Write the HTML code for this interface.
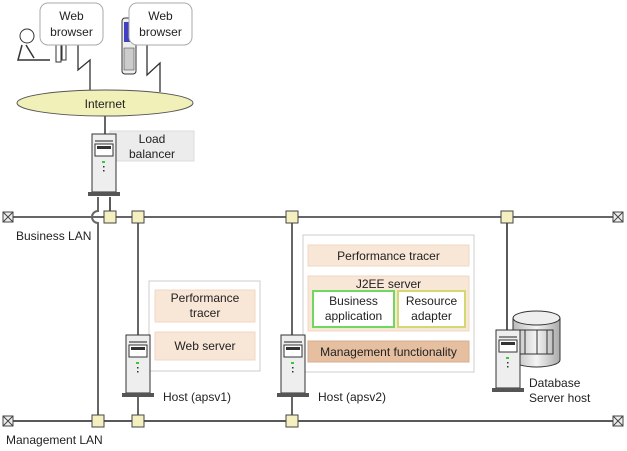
<!DOCTYPE html>
<html><head><style>body{margin:0;background:#fff}svg{display:block;font-family:"Liberation Sans",sans-serif}</style></head><body>
<svg width="627" height="451" viewBox="0 0 627 451" xmlns="http://www.w3.org/2000/svg">
<defs>
<linearGradient id="cyl" x1="0" x2="1"><stop offset="0" stop-color="#bbb"/><stop offset="0.5" stop-color="#f4f4f4"/><stop offset="1" stop-color="#aaa"/></linearGradient>
<g id="srv">
<rect x="0" y="0" width="24" height="58" fill="#eee" stroke="#333"/>
<rect x="3" y="6" width="18" height="2" fill="#888"/>
<rect x="3" y="10" width="18" height="12" fill="#fff" stroke="#333"/>
<rect x="5" y="12" width="14" height="3" fill="#333"/>
<rect x="10" y="27" width="3" height="2" fill="#3c3"/>
<rect x="11" y="32" width="1.5" height="1.5" fill="#333"/><rect x="11" y="36" width="1.5" height="1.5" fill="#333"/>
<rect x="-4" y="58" width="32" height="4" fill="#555"/>
</g>
<g id="sq"><rect x="-6" y="-6" width="12" height="12" fill="#f4f0c0" stroke="#444"/></g>
<g id="tm"><rect x="-5" y="-5" width="10" height="10" fill="#eee" stroke="#444"/><path d="M-5 -5L5 5M5 -5L-5 5" stroke="#444"/></g>
</defs>
<!-- LAN lines -->
<line x1="8" y1="217" x2="618" y2="217" stroke="#666" stroke-width="2"/>
<line x1="8" y1="421" x2="618" y2="421" stroke="#222" stroke-width="1.5"/>
<!-- verticals -->
<path d="M98 197V211A6 6 0 0 0 98 223V421" fill="none" stroke="#666" stroke-width="2"/>
<line x1="110" y1="197" x2="110" y2="217" stroke="#222" stroke-width="1.5"/>
<line x1="138" y1="217" x2="138" y2="421" stroke="#666" stroke-width="2"/>
<line x1="292" y1="217" x2="292" y2="421" stroke="#666" stroke-width="2"/>
<line x1="507" y1="217" x2="507" y2="330" stroke="#222" stroke-width="1.5"/>
<line x1="105" y1="116" x2="105" y2="134" stroke="#666" stroke-width="2"/>
<!-- squares -->
<use href="#sq" x="110" y="217"/><use href="#sq" x="138" y="217"/><use href="#sq" x="292" y="217"/><use href="#sq" x="507" y="217"/>
<use href="#sq" x="98" y="421"/><use href="#sq" x="138" y="421"/><use href="#sq" x="292" y="421"/>
<use href="#tm" x="8" y="217"/><use href="#tm" x="618" y="217"/><use href="#tm" x="8" y="421"/><use href="#tm" x="618" y="421"/>
<text x="16" y="240" font-size="12" fill="#222">Business LAN</text>
<text x="6" y="444" font-size="12" fill="#222">Management LAN</text>
<!-- lightning -->
<path d="M78 45V70L90 60V91" fill="none" stroke="#333" stroke-width="1.3"/>
<path d="M147 45V75L160 63V92" fill="none" stroke="#333" stroke-width="1.3"/>
<!-- people/phone -->
<circle cx="27" cy="36" r="7" fill="#fff" stroke="#333"/>
<path d="M22 45L18 60H50M26 45L34 58" fill="none" stroke="#333" stroke-width="1.5"/>
<rect x="56" y="44" width="5" height="18" fill="#fff" stroke="#333"/><rect x="62" y="44" width="4" height="16" fill="#fff" stroke="#333"/>
<rect x="122" y="18" width="14" height="56" rx="3" fill="#eee" stroke="#333"/>
<rect x="124" y="22" width="10" height="20" fill="#4040c0"/>
<rect x="124" y="48" width="10" height="22" fill="#ccc" stroke="#333" stroke-width="0.5"/>
<!-- bubbles -->
<rect x="40" y="3" width="63" height="42" rx="8" fill="#fff" stroke="#aaa"/>
<text x="71.5" y="20" font-size="12" text-anchor="middle" fill="#222">Web</text>
<text x="71.5" y="36" font-size="12" text-anchor="middle" fill="#222">browser</text>
<rect x="129" y="3" width="63" height="42" rx="8" fill="#fff" stroke="#aaa"/>
<text x="160.5" y="20" font-size="12" text-anchor="middle" fill="#222">Web</text>
<text x="160.5" y="36" font-size="12" text-anchor="middle" fill="#222">browser</text>
<!-- internet -->
<ellipse cx="105" cy="103" rx="88" ry="13" fill="#f0f0b8" stroke="#555"/>
<text x="105" y="108" font-size="12" text-anchor="middle" fill="#222">Internet</text>
<!-- load balancer -->
<rect x="110" y="131" width="84" height="30" fill="#ececec" stroke="#ddd"/>
<text x="152" y="143" font-size="12" text-anchor="middle" fill="#222">Load</text>
<text x="152" y="158" font-size="12" text-anchor="middle" fill="#222">balancer</text>
<use href="#srv" x="92" y="134"/>
<!-- apsv1 -->
<rect x="149" y="281" width="111" height="90" fill="#fff" stroke="#ccc"/>
<rect x="155" y="290" width="100" height="32" fill="#f8e6d6" stroke="#f0d8c4"/>
<text x="205" y="302" font-size="12" text-anchor="middle" fill="#222">Performance</text>
<text x="205" y="317" font-size="12" text-anchor="middle" fill="#222">tracer</text>
<rect x="155" y="332" width="100" height="28" fill="#f8e6d6" stroke="#f0d8c4"/>
<text x="205" y="350" font-size="12" text-anchor="middle" fill="#222">Web server</text>
<use href="#srv" x="126" y="335"/>
<text x="163" y="401" font-size="12" fill="#222">Host (apsv1)</text>
<!-- apsv2 -->
<rect x="303" y="235" width="171" height="137" fill="#fff" stroke="#ccc"/>
<rect x="308" y="245" width="161" height="21" fill="#f8e6d6" stroke="#f0d8c4"/>
<text x="388.5" y="260" font-size="12" text-anchor="middle" fill="#222">Performance tracer</text>
<rect x="308" y="276" width="161" height="55" fill="#f8e6d6" stroke="#f0d8c4"/>
<text x="388.5" y="288" font-size="12" text-anchor="middle" fill="#222">J2EE server</text>
<rect x="313" y="291" width="81" height="36" fill="#fff" stroke="#70d860" stroke-width="2"/>
<text x="353.5" y="305" font-size="12" text-anchor="middle" fill="#222">Business</text>
<text x="353.5" y="320" font-size="12" text-anchor="middle" fill="#222">application</text>
<rect x="398" y="291" width="67" height="36" fill="#fff" stroke="#d4d870" stroke-width="2"/>
<text x="431.5" y="305" font-size="12" text-anchor="middle" fill="#222">Resource</text>
<text x="431.5" y="320" font-size="12" text-anchor="middle" fill="#222">adapter</text>
<rect x="308" y="341" width="161" height="21" fill="#e6bea0" stroke="#d8ae90"/>
<text x="388.5" y="356" font-size="12" text-anchor="middle" fill="#222">Management functionality</text>
<use href="#srv" x="281" y="335"/>
<text x="318" y="401" font-size="12" fill="#222">Host (apsv2)</text>
<!-- DB -->
<path d="M513 318V360A23.5 7 0 0 0 560 360V318" fill="url(#cyl)" stroke="#333"/>
<ellipse cx="536.5" cy="318" rx="23.5" ry="7" fill="#eee" stroke="#333"/>
<path d="M513 330H553V354H513M525 330V354M537 330V354M547 330V354" fill="none" stroke="#333"/>
<use href="#srv" x="496" y="330"/>
<text x="529" y="387" font-size="12" fill="#222">Database</text>
<text x="529" y="402" font-size="12" fill="#222">Server host</text>
</svg>
</body></html>
